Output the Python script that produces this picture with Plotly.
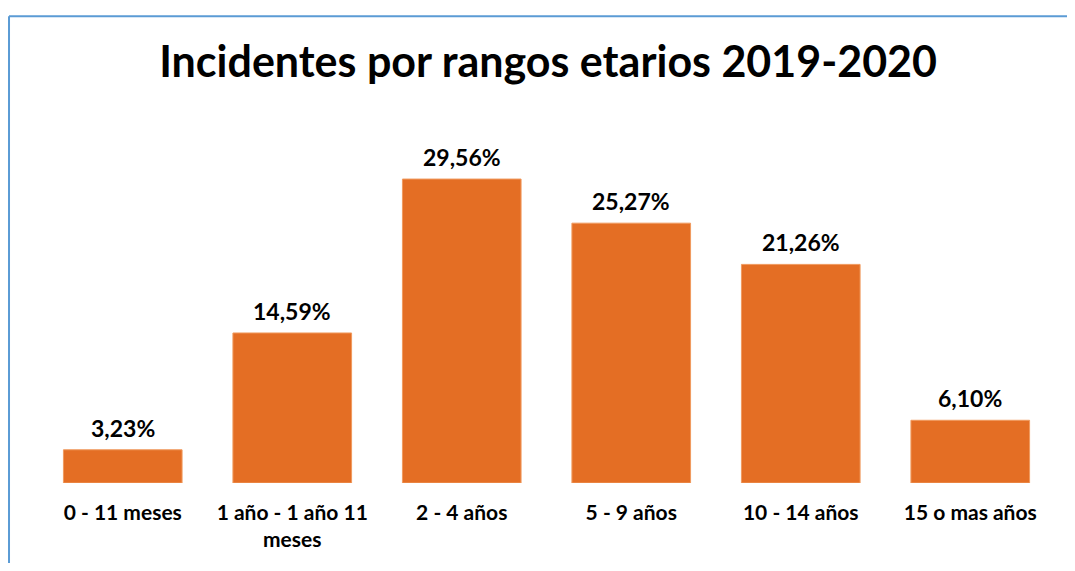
"""Bar chart of incidents by age range, 2019-2020."""

import plotly.graph_objects as go


# Data
rangos = ["0 - 11 meses", "1 año - 1 año 11<br>meses", "2 - 4 años",
          "5 - 9 años", "10 - 14 años", "15 o mas años"]
porcentajes = [3.23, 14.59, 29.56, 25.27, 21.26, 6.10]
etiquetas = ["3,23%", "14,59%", "29,56%", "25,27%", "21,26%", "6,10%"]

FONT = "Lato"

fig = go.Figure(
    go.Bar(
        x=rangos,
        y=porcentajes,
        marker=dict(color="#E46E24", line=dict(color="#F09A5E", width=1)),
        hoverinfo="x+y",
    )
)

# Value labels above each bar
for r, p, e in zip(rangos, porcentajes, etiquetas):
    fig.add_annotation(x=r, y=p, text=e, showarrow=False,
                       yanchor="bottom", yshift=6,
                       font=dict(family=FONT, size=23, color="#000000", weight="bold"))

# page has an 8px body margin, so the figure is a bit smaller than the window
fig.update_layout(
    width=1059,
    height=555,
    paper_bgcolor="white",
    plot_bgcolor="white",
    showlegend=False,
    bargap=0.3,
    margin=dict(l=30, r=12, t=140, b=69),
    title=dict(
        text="Incidentes por rangos etarios 2019-2020",
        x=0.51, xanchor="center", y=0.903, yanchor="middle",
        font=dict(family=FONT, size=43, color="#000000", weight="bold"),
    ),
    xaxis=dict(
        showline=False, showgrid=False, ticks="",
        ticklabelstandoff=15,
        tickfont=dict(family=FONT, size=21, color="#000000", weight="bold"),
    ),
    yaxis=dict(range=[0, 32.58], visible=False, showgrid=False),
)

# Chart area border (blue, top and left edges visible)
fig.add_shape(type="line", xref="paper", yref="paper",
              x0=-0.0285, x1=1.1, y0=1.393, y1=1.393,
              line=dict(color="#5B9BD5", width=2))
fig.add_shape(type="line", xref="paper", yref="paper",
              x0=-0.0285, x1=-0.0285, y0=1.393, y1=-0.3,
              line=dict(color="#5B9BD5", width=2))

fig.write_html("out.html")
